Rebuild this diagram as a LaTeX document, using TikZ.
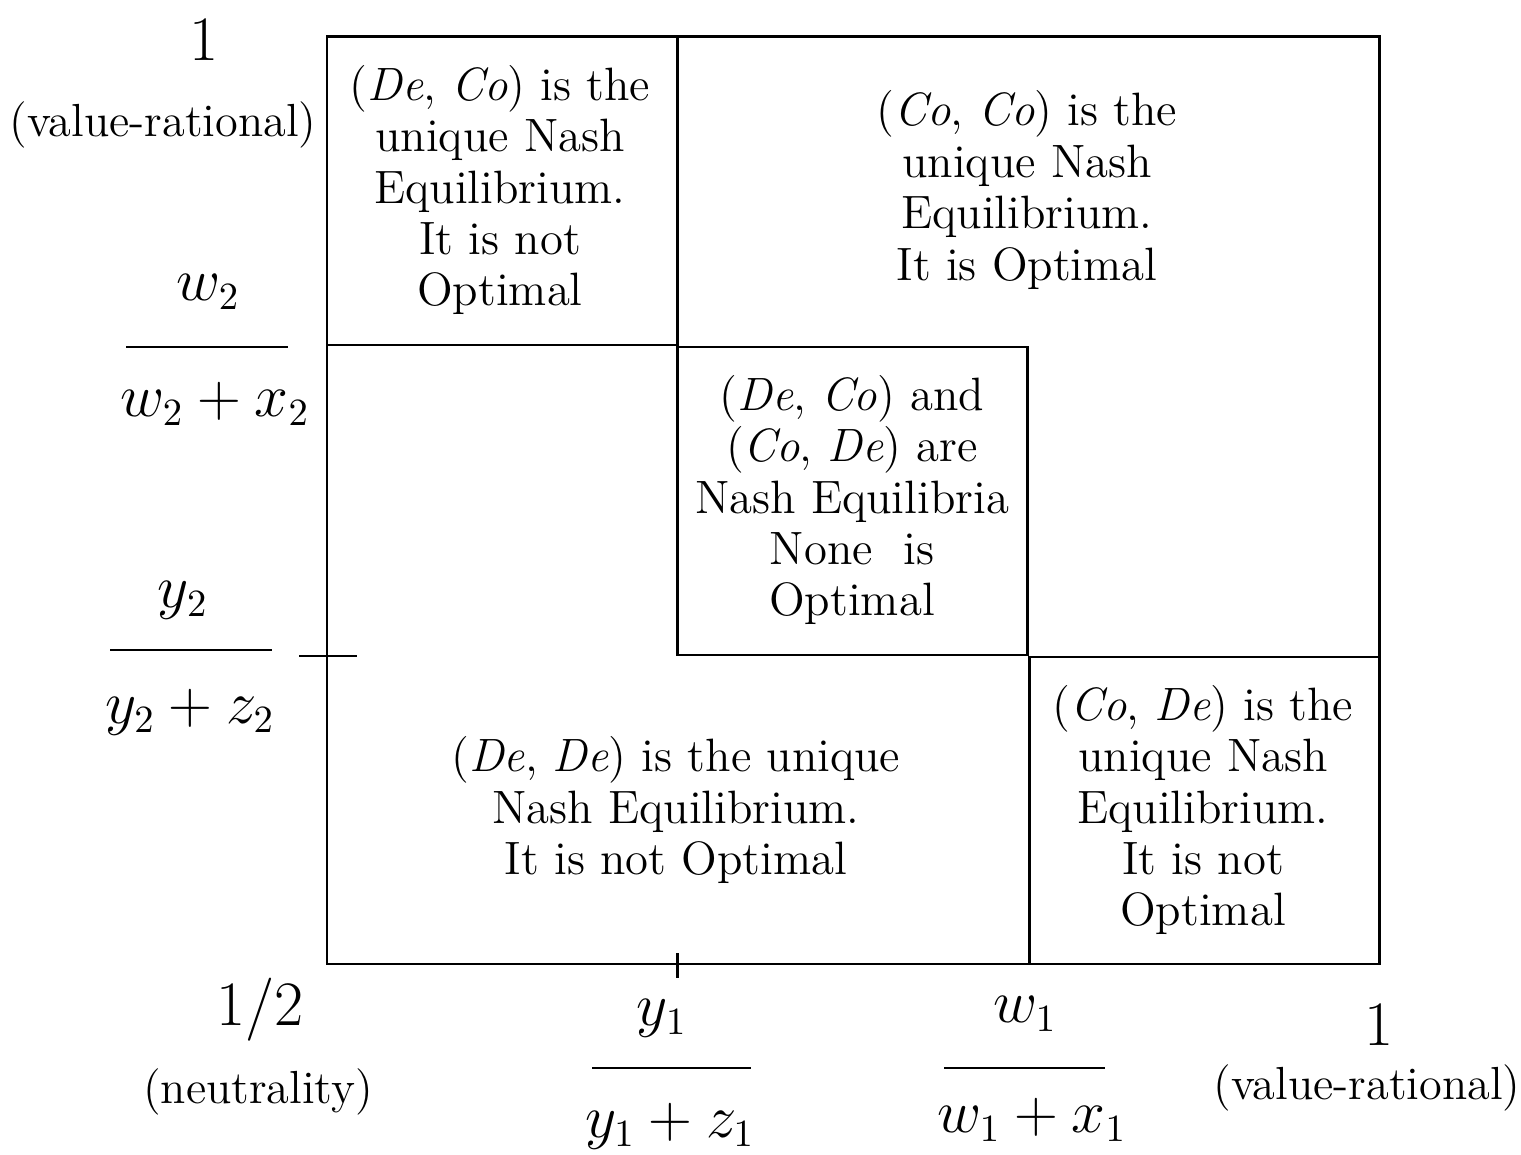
\documentclass[tikz,border=0pt]{standalone}
\usepackage{amsmath}
\tikzset{
  region/.style={align=center, font=\fontsize{13.3}{14.6}\selectfont},
  axislabel/.style={font=\fontsize{13.2}{15}\selectfont},
  bignum/.style={font=\fontsize{18}{21}\selectfont},
  fracpart/.style={font=\fontsize{16}{19}\selectfont},
}
\begin{document}
\begin{tikzpicture}[x=0.01cm, y=-0.01cm, line width=0.85pt]
    \useasboundingbox (0,0) rectangle (1521,1155);
    % regions
    \draw (327,37) rectangle (1379,964);
    \draw (677,37) -- (677,655) -- (1027,655) -- (1027,347) -- (677,347);
    \draw (327,345) -- (677,345);
    \draw (1029,964) -- (1029,657) -- (1379,657);
    % ticks
    \draw (299,656) -- (357,656);
    \draw (677,953) -- (677,978);
    % texts in the regions
    \node[region] (dc) at (500,190) {(\textit{De}, \textit{Co}) is the\\unique Nash\\Equilibrium.\\It is not\\Optimal};
    \node[region] (cc) at (1027,190) {(\textit{Co}, \textit{Co}) is the\\unique Nash\\Equilibrium.\\It is Optimal};
    \node[region] (both) at (852,500) {(\textit{De}, \textit{Co}) and\\(\textit{Co}, \textit{De}) are\\Nash Equilibria\\None\ \ is\\Optimal};
    \node[region] (dd) at (676,810) {(\textit{De}, \textit{De}) is the unique\\Nash Equilibrium.\\It is not Optimal};
    \node[region] (cd) at (1203,810) {(\textit{Co}, \textit{De}) is the\\unique Nash\\Equilibrium.\\It is not\\Optimal};
    % vertical axis
    \node[bignum] (ytop) at (204,40) {1};
    \node[axislabel] (yval) at (163,125) {(value-rational)};
    \node[fracpart] (wnum) at (208,292) {$w_2$};
    \node[fracpart] (wden) at (215,404) {$w_2+x_2$};
    \draw[line width=0.6pt] (126,347) -- (288,347);
    \node[fracpart] (ynum) at (183,600) {$y_2$};
    \node[fracpart] (yden) at (190,712) {$y_2+z_2$};
    \draw[line width=0.6pt] (110,650) -- (272,650);
    % horizontal axis
    \node[bignum] (xhalf) at (260,1010) {1/2};
    \node[axislabel] (xneu) at (258,1092) {(neutrality)};
    \node[fracpart] (ynum1) at (662,1018) {$y_1$};
    \node[fracpart] (yden1) at (670,1126) {$y_1+z_1$};
    \draw[line width=0.6pt] (592,1068) -- (751,1068);
    \node[fracpart] (wnum1) at (1025,1014) {$w_1$};
    \node[fracpart] (wden1) at (1032,1120) {$w_1+x_1$};
    \draw[line width=0.6pt] (944,1068) -- (1105,1068);
    \node[bignum] (xone) at (1379,1025) {1};
    \node[axislabel] (xval) at (1367,1088) {(value-rational)};
\end{tikzpicture}
\end{document}
